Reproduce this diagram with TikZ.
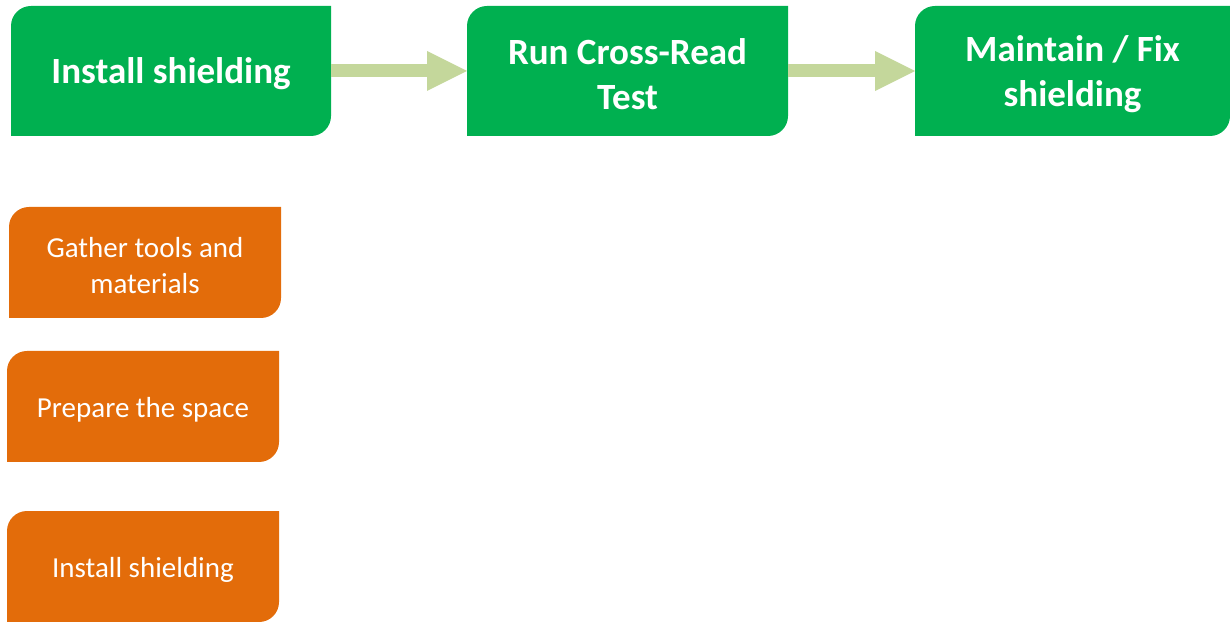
\documentclass[tikz,border=0pt]{standalone}
\usepackage{fontspec}
\setmainfont{Carlito}
\usetikzlibrary{arrows.meta}
\definecolor{boxgreen}{HTML}{00B050}
\definecolor{boxorange}{HTML}{E36C0A}
\definecolor{arrowgreen}{HTML}{C4D79B}
% the box is drawn 6pt taller than its fill, so that the text sits 3pt lower than the fill's centre
\tikzset{
  diagbox/.style={rectangle, draw=none, inner sep=0pt, outer sep=0pt,
    text=white, align=center,
    path picture={\fill[#1] ([yshift=6pt]path picture bounding box.south west)
      -- ([yshift=-20pt]path picture bounding box.north west)
      arc[start angle=180,end angle=90,radius=20pt]
      -- (path picture bounding box.north east)
      -- ([yshift=26pt]path picture bounding box.south east)
      arc[start angle=0,end angle=-90,radius=20pt]
      -- cycle;}},
  mainbox/.style={diagbox=boxgreen, minimum height=136pt,
    font=\fontsize{37}{45}\selectfont\bfseries},
  subbox/.style={diagbox=boxorange, minimum width=272pt, minimum height=117pt,
    font=\fontsize{29}{36}\selectfont},
  flowarrow/.style={draw=arrowgreen, line width=13pt,
    -{Triangle[length=40pt,width=40pt,fill=arrowgreen,line width=0pt]}}
}
\begin{document}
\begin{tikzpicture}[x=1pt,y=1pt]
\useasboundingbox (0,0) rectangle (1230,621);
\node[mainbox, minimum width=320pt] (m1) at (171,547) {Install shielding};
\node[mainbox, minimum width=321pt] (m2) at (627.5,547) {Run Cross-Read\\Test};
\node[mainbox, minimum width=315pt] (m3) at (1072.5,547) {Maintain / Fix\\shielding};
\draw[flowarrow] ([yshift=3pt]m1.east) -- ([yshift=3pt]m2.west);
\draw[flowarrow] ([yshift=3pt]m2.east) -- ([yshift=3pt]m3.west);
\node[subbox] (s1) at (145,355.5) {Gather tools and\\materials};
\node[subbox] (s2) at (143,211.5) {Prepare the space};
\node[subbox] (s3) at (143,51.5) {Install shielding};
\end{tikzpicture}
\end{document}
